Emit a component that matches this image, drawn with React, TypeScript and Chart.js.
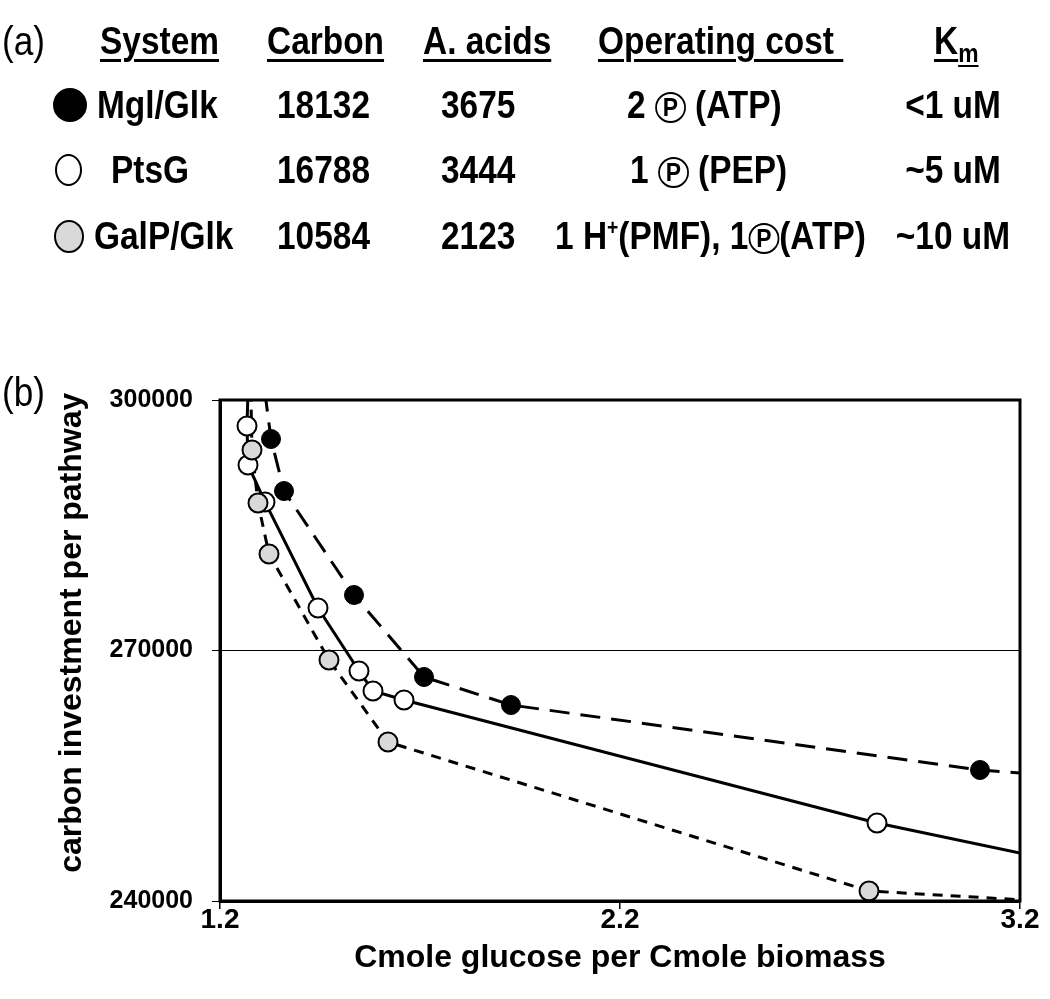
import React, { useEffect, useRef } from 'react';
import { Chart, registerables } from 'chart.js';

Chart.register(...registerables);

// ---------- table (a) data ----------
const headers = ['System', 'Carbon', 'A. acids', 'Operating cost '];
const systems = ['Mgl/Glk', 'PtsG', 'GalP/Glk'];
const carbonCost = ['18132', '16788', '10584'];
const aminoAcids = ['3675', '3444', '2123'];
const operatingCost = [
  ['2 ', 'Ⓟ', ' (ATP)'],
  ['1 ', 'Ⓟ', ' (PEP)'],
  ['1 H', '⁺', '(PMF), 1', 'Ⓟ', '(ATP)'],
];
const kmValues = ['<1 uM', '~5 uM', '~10 uM'];
const markerFills = ['#000000', '#ffffff', '#d9d9d9'];

// ---------- chart (b) data ----------
const xTicks = [1.2, 2.2, 3.2];
const yTicks = [240000, 270000, 300000];

const mglX = [1.3275, 1.36, 1.535, 1.71, 1.9275, 3.1];
const mglY = [295330, 289100, 276650, 266830, 263470, 255690];
const mglLineX = [1.312, 1.3275, 1.36, 1.535, 1.71, 1.9275, 3.1, 3.2];
const mglLineY = [301000, 295330, 289100, 276650, 266830, 263470, 255690, 255330];

const ptsX = [1.2675, 1.27, 1.3125, 1.445, 1.5475, 1.5825, 1.66, 2.8425];
const ptsY = [296890, 292220, 287790, 275090, 267550, 265150, 264070, 249340];
const ptsLineX = [1.27, 1.2675, 1.27, 1.3125, 1.445, 1.5475, 1.5825, 1.66, 2.8425, 3.2];
const ptsLineY = [301000, 296890, 292220, 287790, 275090, 267550, 265150, 264070, 249340, 245750];

const galX = [1.28, 1.295, 1.3225, 1.4725, 1.62, 2.8225];
const galY = [294010, 287660, 281560, 268860, 259040, 241200];
const galLineX = [1.277, 1.28, 1.295, 1.3225, 1.4725, 1.62, 2.8225, 3.2];
const galLineY = [301000, 294010, 287660, 281560, 268860, 259040, 241200, 240150];

const SANS = "'Liberation Sans', Arial, sans-serif";
const SQUEEZE = 0.88;

const cellBase: React.CSSProperties = {
  position: 'absolute',
  fontFamily: SANS,
  fontWeight: 'bold',
  fontSize: 38,
  lineHeight: '44px',
  height: 44,
  whiteSpace: 'pre',
  color: '#000',
  transform: `scaleX(${SQUEEZE})`,
  transformOrigin: 'left center',
};

const headerLeft = [100, 267, 423, 598];
const headerCenter = 41;
const rowCenters = [105, 170, 236];
const sysLeft = [97, 111, 94];
const carbonLeft = 277;
const aaLeft = 441;
const costLeft = [627, 630, 555];
const kmCenter = 953;
const markerGeom = [
  { cx: 70, w: 34, h: 34 },
  { cx: 68, w: 27, h: 32 },
  { cx: 69, w: 30, h: 33 },
];

function CircledP() {
  return (
    <span
      style={{
        display: 'inline-block',
        width: Math.round(31 / SQUEEZE),
        height: 31,
        boxSizing: 'border-box',
        border: '2px solid #000',
        borderRadius: '50%',
        textAlign: 'center',
        fontSize: 26,
        lineHeight: '27px',
        verticalAlign: '2px',
      }}
    >
      P
    </span>
  );
}

function CostCell({ parts }: { parts: string[] }) {
  return (
    <>
      {parts.map((p, i) => {
        if (p === 'Ⓟ') return <CircledP key={i} />;
        if (p === '⁺')
          return (
            <span key={i} style={{ fontSize: 22, verticalAlign: '14px', lineHeight: '10px' }}>
              +
            </span>
          );
        return <span key={i}>{p}</span>;
      })}
    </>
  );
}

function Table() {
  const ul: React.CSSProperties = { textDecoration: 'underline', textDecorationThickness: 3, textUnderlineOffset: 5 };
  return (
    <>
      <div style={{ ...cellBase, fontWeight: 'normal', fontSize: 40, left: 2, top: headerCenter - 22 }}>(a)</div>
      {headers.map((h, i) => (
        <div key={h} style={{ ...cellBase, ...ul, left: headerLeft[i], top: headerCenter - 22 }}>
          {h}
        </div>
      ))}
      <div style={{ ...cellBase, left: 934, top: headerCenter - 22 }}>
        <span style={ul}>K</span>
        <span style={{ fontSize: 26, verticalAlign: '-8px', textDecoration: 'underline', textDecorationThickness: 2, textUnderlineOffset: 3 }}>m</span>
      </div>
      {systems.map((s, i) => (
        <React.Fragment key={s}>
          <div
            style={{
              position: 'absolute',
              left: markerGeom[i].cx - markerGeom[i].w / 2,
              top: rowCenters[i] - markerGeom[i].h / 2,
              width: markerGeom[i].w,
              height: markerGeom[i].h,
              boxSizing: 'border-box',
              borderRadius: '50%',
              background: markerFills[i],
              border: '2px solid #000',
            }}
          />
          <div style={{ ...cellBase, left: sysLeft[i], top: rowCenters[i] - 22 }}>{s}</div>
          <div style={{ ...cellBase, left: carbonLeft, top: rowCenters[i] - 22 }}>{carbonCost[i]}</div>
          <div style={{ ...cellBase, left: aaLeft, top: rowCenters[i] - 22 }}>{aminoAcids[i]}</div>
          <div style={{ ...cellBase, left: costLeft[i], top: rowCenters[i] - 22 }}>
            <CostCell parts={operatingCost[i]} />
          </div>
          <div
            style={{
              ...cellBase,
              left: kmCenter - 80,
              width: 160,
              textAlign: 'center',
              transformOrigin: 'center center',
              top: rowCenters[i] - 22,
            }}
          >
            {kmValues[i]}
          </div>
        </React.Fragment>
      ))}
      <div style={{ ...cellBase, fontWeight: 'normal', fontSize: 40, left: 2, top: 392 - 22 }}>(b)</div>
    </>
  );
}

function pairs(xs: number[], ys: number[]) {
  return xs.map((x, i) => ({ x, y: ys[i] }));
}

export default function App() {
  const ref = useRef<HTMLCanvasElement>(null);

  useEffect(() => {
    if (!ref.current) return;
    const framePlugin = {
      id: 'frame',
      afterDatasetsDraw(chart: any) {
        const { ctx, chartArea: a } = chart;
        ctx.save();
        ctx.strokeStyle = '#000';
        ctx.lineWidth = 3;
        ctx.strokeRect(a.left, a.top, a.right - a.left, a.bottom - a.top);
        ctx.restore();
      },
    };
    const chart = new Chart(ref.current, {
      type: 'scatter',
      data: {
        datasets: [
          {
            label: 'GalP/Glk',
            data: pairs(galX, galY),
            pointRadius: 9.5,
            pointBackgroundColor: '#d9d9d9',
            pointBorderColor: '#000',
            pointBorderWidth: 2,
            order: 1,
          },
          {
            label: 'PtsG',
            data: pairs(ptsX, ptsY),
            pointRadius: 9.5,
            pointBackgroundColor: '#ffffff',
            pointBorderColor: '#000',
            pointBorderWidth: 2,
            order: 2,
          },
          {
            label: 'Mgl/Glk',
            data: pairs(mglX, mglY),
            pointRadius: 9.5,
            pointBackgroundColor: '#000',
            pointBorderColor: '#000',
            pointBorderWidth: 1,
            order: 3,
          },
          {
            label: 'GalP/Glk line',
            data: pairs(galLineX, galLineY),
            showLine: true,
            pointRadius: 0,
            borderColor: '#000',
            borderWidth: 3,
            borderDash: [10, 8],
            order: 4,
          },
          {
            label: 'PtsG line',
            data: pairs(ptsLineX, ptsLineY),
            showLine: true,
            pointRadius: 0,
            borderColor: '#000',
            borderWidth: 3,
            order: 5,
          },
          {
            label: 'Mgl/Glk line',
            data: pairs(mglLineX, mglLineY),
            showLine: true,
            pointRadius: 0,
            borderColor: '#000',
            borderWidth: 3,
            borderDash: [20, 11],
            order: 6,
          },
        ],
      },
      options: {
        animation: false,
        responsive: false,
        events: [],
        layout: { padding: { top: 400, right: 30, bottom: 0, left: 0 } },
        plugins: { legend: { display: false }, tooltip: { enabled: false } },
        scales: {
          x: {
            type: 'linear',
            min: 1.2,
            max: 3.2,
            afterBuildTicks: (s: any) => {
              s.ticks = xTicks.map((v) => ({ value: v }));
            },
            afterFit: (s: any) => {
              s.height = 98;
            },
            grid: { drawOnChartArea: false, color: '#000', lineWidth: 1.5, tickLength: 8 },
            border: { color: '#000', width: 3 },
            ticks: {
              color: '#000',
              padding: -6,
              autoSkip: false,
              maxRotation: 0,
              font: { family: SANS, size: 28, weight: 'bold' },
              callback: (v: any) => Number(v).toFixed(1),
            },
            title: {
              display: true,
              text: 'Cmole glucose per Cmole biomass',
              color: '#000',
              font: { family: SANS, size: 32, weight: 'bold' },
              padding: { top: 0, bottom: 22 },
            },
          },
          y: {
            type: 'linear',
            min: 240000,
            max: 300000,
            afterBuildTicks: (s: any) => {
              s.ticks = yTicks.map((v) => ({ value: v }));
            },
            afterFit: (s: any) => {
              s.width = 220;
            },
            grid: { color: '#000', lineWidth: 1, tickLength: 8 },
            border: { color: '#000', width: 3 },
            ticks: {
              color: '#000',
              padding: 19,
              autoSkip: false,
              font: { family: SANS, size: 25, weight: 'bold' },
              callback: (v: any) => String(v),
            },
            title: {
              display: true,
              text: '    carbon investment per pathway',
              color: '#000',
              font: { family: SANS, size: 32, weight: 'bold' },
              padding: { top: 53, bottom: 0 },
            },
          },
        },
      },
      plugins: [framePlugin],
    } as any);
    return () => chart.destroy();
  }, []);

  return (
    <div style={{ position: 'fixed', left: 0, top: 0, width: 1050, height: 999, background: '#fff', overflow: 'hidden' }}>
      <canvas ref={ref} width={1050} height={999} style={{ position: 'absolute', left: 0, top: 0 }} />
      <Table />
    </div>
  );
}
